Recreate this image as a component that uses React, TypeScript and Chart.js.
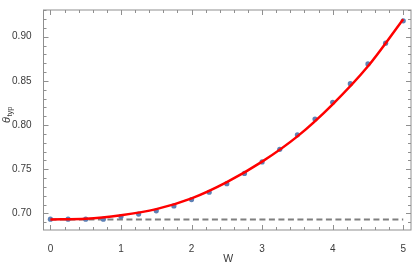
import React, { useEffect, useRef } from "react";
import { Chart, registerables } from "chart.js";

Chart.register(...registerables);

const wValues = [0, 0.25, 0.5, 0.75, 1, 1.25, 1.5, 1.75, 2, 2.25, 2.5, 2.75, 3, 3.25, 3.5, 3.75, 4, 4.25, 4.5, 4.75, 5];
const thetaPoints = [0.6934, 0.6934, 0.6934, 0.6935, 0.6964, 0.6992, 0.7029, 0.7085, 0.7156, 0.7239, 0.7336, 0.7452, 0.7582, 0.7725, 0.7889, 0.8067, 0.8258, 0.8468, 0.8692, 0.8927, 0.918];
const wCurve = [0, 0.5, 1, 1.5, 2, 2.5, 3, 3.5, 4, 4.5, 5];
const thetaCurve = [0.6932, 0.694, 0.698, 0.7048, 0.717, 0.7354, 0.7586, 0.7872, 0.8235, 0.8665, 0.9198];
const baselineW = [0, 5];
const baselineTheta = [0.6931, 0.6931];
const xTicks = [0, 1, 2, 3, 4, 5];
const yTicks = [0.7, 0.75, 0.8, 0.85, 0.9];

const FONT = "'Liberation Sans', Arial, sans-serif";
const TEXT = "#3a3a3a";
const FRAME = "#8f8f8f";

const framePlugin = {
  id: "frame",
  afterDraw(chart: any) {
    const { ctx, chartArea: a, scales } = chart;
    const xs = scales.x;
    const ys = scales.y;
    ctx.save();
    ctx.strokeStyle = FRAME;
    ctx.lineWidth = 1;
    ctx.strokeRect(a.left, a.top, a.right - a.left, a.bottom - a.top);
    ctx.beginPath();
    for (let i = 0; i <= 25; i++) {
      const v = i * 0.2;
      const px = Math.round(xs.getPixelForValue(v)) + 0.5;
      const len = i % 5 === 0 ? 5 : 3;
      ctx.moveTo(px, a.bottom);
      ctx.lineTo(px, a.bottom - len);
      ctx.moveTo(px, a.top);
      ctx.lineTo(px, a.top + len);
    }
    for (let i = 69; i <= 93; i++) {
      const v = i / 100;
      const py = Math.round(ys.getPixelForValue(v)) + 0.5;
      if (py < a.top || py > a.bottom) continue;
      const len = i % 5 === 0 ? 5 : 3;
      ctx.moveTo(a.left, py);
      ctx.lineTo(a.left + len, py);
      ctx.moveTo(a.right, py);
      ctx.lineTo(a.right - len, py);
    }
    ctx.stroke();

    ctx.fillStyle = TEXT;
    ctx.font = `10.5px ${FONT}`;
    ctx.textAlign = "center";
    ctx.textBaseline = "middle";
    ctx.fillText("W", (a.left + a.right) / 2 + 1, 259.5);

    ctx.translate(10, 123);
    ctx.rotate(-Math.PI / 2);
    ctx.textAlign = "left";
    ctx.textBaseline = "alphabetic";
    ctx.font = `italic 11px ${FONT}`;
    ctx.fillText("θ", 0, 0);
    const w = ctx.measureText("θ").width;
    ctx.font = `7.5px ${FONT}`;
    ctx.fillText("typ", w + 0.5, 2);
    ctx.restore();
  },
};

export default function App() {
  const ref = useRef<HTMLCanvasElement>(null);
  useEffect(() => {
    document.body.style.margin = "0";
    const chart = new Chart(ref.current!, {
      type: "scatter",
      data: {
        datasets: [
          {
            type: "line",
            data: wCurve.map((x, i) => ({ x, y: thetaCurve[i] })),
            borderColor: "#ff0000",
            borderWidth: 2.5,
            pointRadius: 0,
            cubicInterpolationMode: "monotone",
            fill: false,
            order: 0,
          } as any,
          {
            type: "scatter",
            data: wValues.map((x, i) => ({ x, y: thetaPoints[i] })),
            backgroundColor: "#5E81B5",
            borderWidth: 0,
            pointRadius: 2.6,
            order: 1,
          },
          {
            type: "line",
            data: baselineW.map((x, i) => ({ x, y: baselineTheta[i] })),
            borderColor: "#7f7f7f",
            borderWidth: 1.8,
            borderDash: [6, 3.5],
            pointRadius: 0,
            fill: false,
            order: 2,
          } as any,
        ],
      },
      options: {
        animation: false,
        responsive: false,
        maintainAspectRatio: false,
        layout: { padding: { top: 0.5, right: 0.5, left: 0, bottom: 0 } },
        plugins: { legend: { display: false }, tooltip: { enabled: false } },
        scales: {
          x: {
            type: "linear",
            min: -0.098,
            max: 5.11,
            grid: { display: false },
            border: { display: false },
            afterBuildTicks: (s: any) => {
              s.ticks = xTicks.map((v) => ({ value: v }));
            },
            afterFit: (s: any) => {
              s.height = 37;
            },
            ticks: {
              font: { family: FONT, size: 10 },
              color: TEXT,
              padding: 5,
              maxRotation: 0,
              callback: (v: any) => String(v),
            },
          },
          y: {
            type: "linear",
            min: 0.6812,
            max: 0.9302,
            grid: { display: false },
            border: { display: false },
            afterBuildTicks: (s: any) => {
              s.ticks = yTicks.map((v) => ({ value: v }));
            },
            afterFit: (s: any) => {
              s.width = 43.5;
            },
            ticks: {
              font: { family: FONT, size: 10 },
              color: TEXT,
              padding: 4,
              callback: (v: any) => Number(v).toFixed(2),
            },
          },
        },
      },
      plugins: [framePlugin],
    });
    return () => chart.destroy();
  }, []);
  return <canvas ref={ref} width={415} height={267} style={{ display: "block", width: 415, height: 267 }} />;
}
